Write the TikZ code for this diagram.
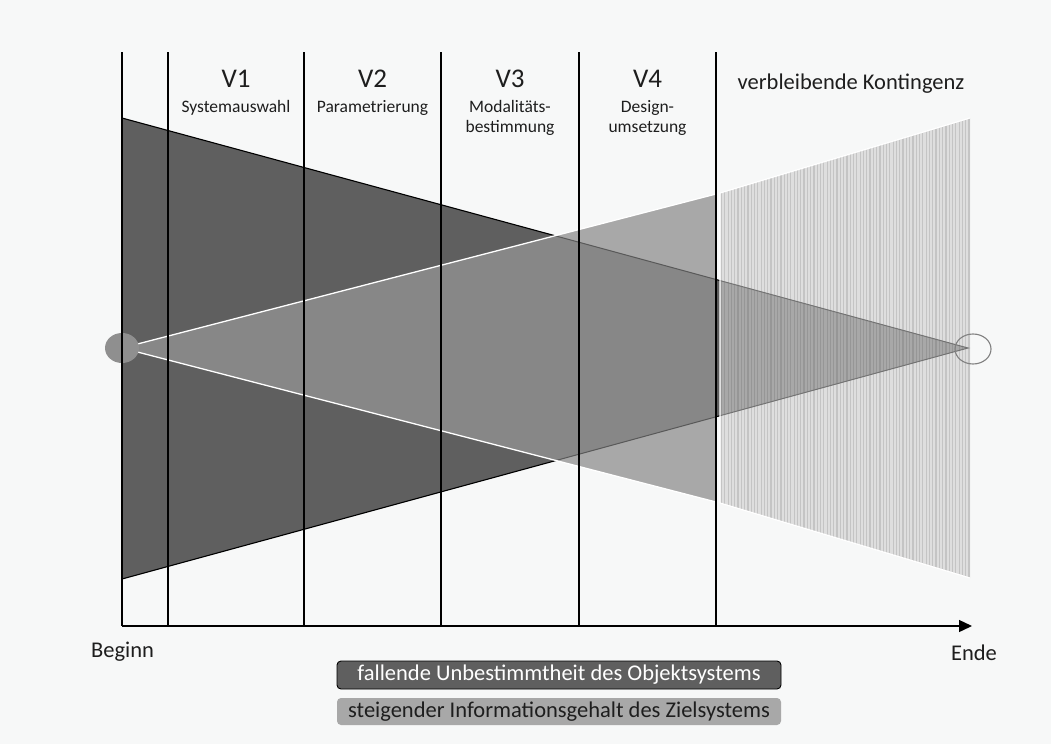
\documentclass[tikz,border=0pt]{standalone}
\usepackage{fontspec}
\setmainfont{Carlito}
\usetikzlibrary{arrows.meta,shapes.geometric}
\definecolor{bgc}{HTML}{F7F8F8}
\definecolor{darkc}{HTML}{5F5F5F}
\definecolor{lightc}{HTML}{A8A8A8}
\definecolor{overc}{HTML}{878787}
\definecolor{hatchA}{HTML}{DEDEDE}
\definecolor{hatchB}{HTML}{C4C4C4}
\definecolor{hatchC}{HTML}{A8A8A8}
\definecolor{hatchD}{HTML}{969696}
\definecolor{txt}{HTML}{1E1E1E}
\tikzset{
  vline/.style={black,line width=1.2pt},
  axisline/.style={black,line width=1.3pt,-{Triangle[length=13pt,width=12pt]}},
  vtitle/.style={anchor=base,text=txt,font=\fontsize{27}{32}\selectfont,inner sep=0pt},
  vsub/.style={anchor=base,text=txt,font=\fontsize{17.5}{20}\selectfont,inner sep=0pt},
  bigtxt/.style={anchor=base,text=txt,font=\fontsize{22.5}{26}\selectfont,inner sep=0pt},
  legA/.style={draw=black,line width=0.9pt,fill=darkc,rounded corners=4pt,text=white,
    minimum width=444pt,minimum height=28pt,inner sep=0pt,font=\fontsize{22.5}{26}\selectfont},
  legB/.style={draw=none,fill=lightc,rounded corners=4pt,text=txt,
    minimum width=444pt,minimum height=27pt,inner sep=0pt,font=\fontsize{22.5}{26}\selectfont},
}
\begin{document}
\begin{tikzpicture}[x=1pt,y=-1pt]
\useasboundingbox (0,0) rectangle (1051,744);
\fill[bgc] (0,0) rectangle (1051,744);
% key points
\coordinate (D1) at (122,118);
\coordinate (D2) at (122,579);
\coordinate (D3) at (968,348);
\coordinate (L1) at (122,348);
\coordinate (L2) at (716,194);
\coordinate (L3) at (716,502);
\coordinate (H1) at (720,193);
\coordinate (H2) at (970,118);
\coordinate (H3) at (970,578);
\coordinate (H4) at (720,503);
% dark triangle
\fill[darkc] (D1)--(D2)--(D3)--cycle;
\draw[black,line width=1.1pt] (D1)--(D3)--(D2);
% light triangle
\fill[lightc] (L1)--(L2)--(L3)--cycle;
\begin{scope}
  \clip (L1)--(L2)--(L3)--cycle;
  \fill[overc] (D1)--(D2)--(D3)--cycle;
  \draw[black!65,line width=1pt] (D1)--(D3)--(D2);
\end{scope}
\draw[white,line width=1.3pt] (L2)--(L1)--(L3);
% hatched region
\fill[hatchA] (H1)--(H2)--(H3)--(H4)--cycle;
\begin{scope}
  \clip (H1)--(H2)--(H3)--(H4)--cycle;
  \foreach \i in {0,...,76} \draw[hatchB,line width=1.2pt] ({721.5+3.3*\i},100)--({721.5+3.3*\i},600);
  \begin{scope}
    \clip (D1)--(D2)--(D3)--cycle;
    \fill[hatchC] (700,100) rectangle (1000,600);
    \foreach \i in {0,...,76} \draw[hatchD,line width=1.2pt] ({721.5+3.3*\i},100)--({721.5+3.3*\i},600);
  \end{scope}
  \draw[black!55,line width=1pt] (D1)--(D3)--(D2);
\end{scope}
\draw[white,line width=1.2pt] (H2)--(H1)--(H4)--(H3);
% end points
\node[ellipse,fill=black!44,minimum width=34pt,minimum height=30pt,inner sep=0pt] (start) at (122,348) {};
\node[ellipse,draw=black!50,line width=1.1pt,minimum width=36pt,minimum height=30pt,inner sep=0pt] (goal) at (973,349) {};
% vertical separators
\foreach \x/\n in {122/a,168/b,304/c,441/d,579/e,716/f}{
  \coordinate (t\n) at (\x,52);
  \coordinate (b\n) at (\x,626);
  \draw[vline] (t\n)--(b\n);
}
% axis
\coordinate (ax0) at (122,626);
\coordinate (ax1) at (972,626);
\draw[axisline] (ax0)--(ax1);
% headers
\node[vtitle] (v1) at (236,87) {V1};
\node[vsub] (v1s) at (236,112) {Systemauswahl};
\node[vtitle] (v2) at (372.5,87) {V2};
\node[vsub] (v2s) at (372.5,112) {Parametrierung};
\node[vtitle] (v3) at (510,87) {V3};
\node[vsub] (v3s) at (510,112) {Modalitäts-};
\node[vsub] (v3t) at (510,132) {bestimmung};
\node[vtitle] (v4) at (647.5,87) {V4};
\node[vsub] (v4s) at (647.5,112) {Design-};
\node[vsub] (v4t) at (647.5,132) {umsetzung};
\node[bigtxt] (vk) at (851,89) {verbleibende Kontingenz};
% axis labels
\node[bigtxt] (beg) at (122.5,657) {Beginn};
\node[bigtxt] (end) at (974,660) {Ende};
% legend
\node[legA] (lega) at (559,675) {fallende Unbestimmtheit des Objektsystems};
\node[legB] (legb) at (559,711.5) {steigender Informationsgehalt des Zielsystems};
\end{tikzpicture}
\end{document}
